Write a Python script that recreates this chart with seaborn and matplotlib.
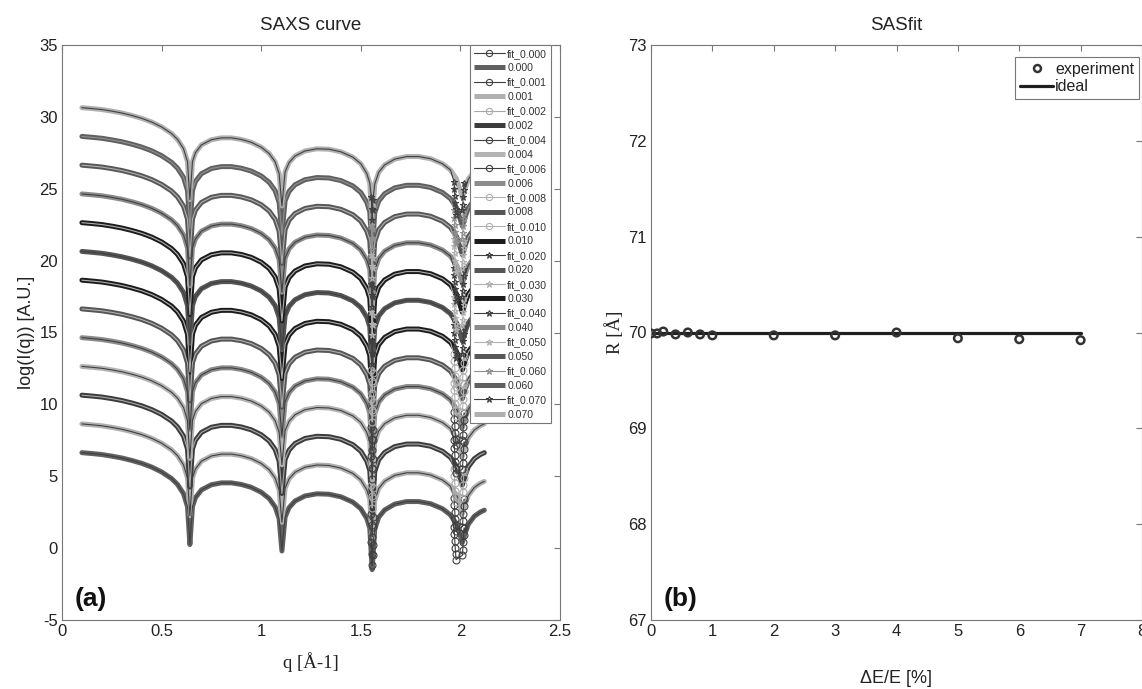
import numpy as np
import matplotlib
matplotlib.use('Agg')
import matplotlib.pyplot as plt
from matplotlib.lines import Line2D
from matplotlib.ticker import FormatStrFormatter
import seaborn as sns

sns.set_theme(style='white')
plt.rcParams['font.family'] = ['Liberation Sans', 'DejaVu Sans']
plt.rcParams['axes.unicode_minus'] = False

# ---- panel (a): SAXS curves, stacked with a vertical offset ----
LABELS = ['0.000', '0.001', '0.002', '0.004', '0.006', '0.008', '0.010',
          '0.020', '0.030', '0.040', '0.050', '0.060', '0.070']
OFFSETS = [0, 2, 4, 6, 8, 10, 12, 14, 16, 18, 20, 22, 24]

# bottom curve (0.000)
Q = [0.10, 0.15, 0.20, 0.25, 0.30, 0.35, 0.40, 0.45, 0.50, 0.55, 0.58, 0.61,
     0.63, 0.642, 0.655, 0.67, 0.70, 0.75, 0.80, 0.85, 0.90, 0.95, 1.00, 1.04,
     1.07, 1.09, 1.104, 1.12, 1.14, 1.17, 1.22, 1.28, 1.34, 1.40, 1.46, 1.50,
     1.53, 1.545, 1.557, 1.57, 1.59, 1.62, 1.67, 1.73, 1.79, 1.85, 1.91, 1.95,
     1.98, 1.995, 2.01, 2.025, 2.04, 2.07, 2.10, 2.12]
LOGI = [6.64, 6.58, 6.51, 6.40, 6.27, 6.10, 5.90, 5.64, 5.30, 4.84, 4.43, 3.79,
        2.88, 0.25, 2.89, 3.51, 4.05, 4.41, 4.54, 4.54, 4.43, 4.23, 3.89, 3.45,
        2.87, 2.05, -0.20, 2.17, 2.82, 3.28, 3.63, 3.78, 3.75, 3.57, 3.20, 2.74,
        2.06, 1.40, -1.50, 1.33, 2.15, 2.66, 3.06, 3.24, 3.24, 3.09, 2.74, 2.31,
        1.69, 1.06, 0.40, 1.10, 1.67, 2.22, 2.51, 2.64]
# deeper points of the fitted curves around the last two minima
DIP_Q = [1.553, 1.555, 1.557, 1.559, 1.561,
         1.968, 1.970, 1.972, 1.974, 1.976, 1.978,
         2.010, 2.012, 2.014, 2.016, 2.018]
DIP_LOGI = [0.40, -0.40, -1.20, -0.50, 0.20,
            1.50, 1.00, 0.50, 0.00, -0.40, -0.80,
            -0.50, -0.10, 0.40, 0.90, 1.40]

DATA_COLORS = ['#606060', '#b0b0b0', '#3c3c3c', '#b4b4b4', '#8c8c8c', '#555555',
               '#1c1c1c', '#555555', '#1c1c1c', '#8c8c8c', '#585858', '#606060',
               '#b0b0b0']
FIT_COLORS = ['#404040', '#404040', '#a8a8a8', '#404040', '#404040', '#b0b0b0',
              '#b0b0b0', '#404040', '#b0b0b0', '#404040', '#b0b0b0', '#909090',
              '#404040']
FIT_MARKERS = ['o', 'o', 'o', 'o', 'o', 'o', 'o', '*', '*', '*', '*', '*', '*']

# ---- panel (b): fitted radius vs energy resolution ----
DE = [0, 0.1, 0.2, 0.4, 0.6, 0.8, 1, 2, 3, 4, 5, 6, 7]
R_EXP = [69.99, 69.99, 70.01, 69.98, 70.00, 69.98, 69.97, 69.97, 69.97, 70.00,
         69.94, 69.93, 69.92]
IDEAL_X = [0, 7]
IDEAL_R = [70, 70]

GRAY = '#777777'
TXT = '#222222'


def style_axes(ax):
    for s in ax.spines.values():
        s.set_color(GRAY)
        s.set_linewidth(0.8)
    ax.tick_params(direction='in', top=True, right=True, length=4, width=0.8,
                   color=GRAY, labelcolor=TXT, labelsize=12, pad=3)


W, H = 1142, 689
fig = plt.figure(figsize=(W / 100, H / 100), dpi=100)
ax1 = fig.add_axes([62 / W, 69 / H, 498 / W, 575 / H])
ax2 = fig.add_axes([651 / W, 69 / H, 491 / W, 575 / H])

q = np.array(Q)
y = np.array(LOGI)
keep = ~(((q > 1.550) & (q < 1.565)) | ((q > 1.965) & (q < 2.02)))
fq = np.concatenate([q[keep], DIP_Q])
fy = np.concatenate([y[keep], DIP_LOGI])
order = np.argsort(fq)
fq, fy = fq[order], fy[order]
dq, dy = np.array(DIP_Q), np.array(DIP_LOGI)

handles, labels = [], []
for k, lab in enumerate(LABELS):
    off = OFFSETS[k]
    sns.lineplot(x=q, y=y + off, sort=False, estimator=None, ax=ax1,
                 color=DATA_COLORS[k], lw=3.6, zorder=2, legend=False)
    sns.lineplot(x=fq, y=fy + off, sort=False, estimator=None, ax=ax1,
                 color=FIT_COLORS[k], lw=0.8, zorder=3, legend=False)
    ax1.plot(dq, dy + off, ls='none', marker=FIT_MARKERS[k], mfc='none',
             mec=FIT_COLORS[k], ms=5, mew=0.8, zorder=3)
    handles.append(Line2D([], [], color=FIT_COLORS[k], lw=0.8,
                          marker=FIT_MARKERS[k], mfc='none', ms=4.5, mew=0.8))
    labels.append('fit_' + lab)
    handles.append(Line2D([], [], color=DATA_COLORS[k], lw=3.6,
                          solid_capstyle='butt'))
    labels.append(lab)

ax1.set_xlim(0, 2.5)
ax1.set_ylim(-5, 35)
ax1.set_xticks([0, 0.5, 1, 1.5, 2, 2.5])
ax1.set_yticks(range(-5, 36, 5))
ax1.xaxis.set_major_formatter(FormatStrFormatter('%g'))
style_axes(ax1)
ax1.set_title('SAXS curve', fontsize=13.5, color=TXT, pad=11)
ax1.set_xlabel('q [Å-1]', family='Liberation Serif', fontsize=13.5,
               color=TXT, labelpad=9)
ax1.set_ylabel('log(I(q)) [A.U.]', fontsize=13, color=TXT, labelpad=3)
ax1.text(0.025, 0.025, '(a)', transform=ax1.transAxes, fontsize=19,
         fontweight='bold', color='#111111')
leg = ax1.legend(handles, labels, loc='upper right',
                 bbox_to_anchor=(1 - 9 / 498, 1.0), borderaxespad=0,
                 fontsize=7.6, labelspacing=0.42, handlelength=3.0,
                 handletextpad=0.2, borderpad=0.35, fancybox=False,
                 framealpha=1, edgecolor=GRAY, labelcolor='#333333')
leg.get_frame().set_linewidth(0.8)

sns.lineplot(x=IDEAL_X, y=IDEAL_R, ax=ax2, color='#1f1f1f', lw=2.3,
             zorder=2, legend=False)
sns.scatterplot(x=DE, y=R_EXP, ax=ax2, marker='o', s=30, facecolor='none',
                edgecolor='#333333', linewidth=1.8, zorder=3, legend=False)
ax2.set_xlim(0, 8)
ax2.set_ylim(67, 73)
ax2.set_xticks(range(0, 9))
ax2.set_yticks(range(67, 74))
style_axes(ax2)
ax2.set_title('SASfit', fontsize=13.5, color=TXT, pad=11)
ax2.set_xlabel('ΔE/E [%]', fontsize=13, color=TXT, labelpad=22)
ax2.set_ylabel('R [Å]', family='Liberation Serif', fontsize=13.5,
               color=TXT, labelpad=3)
ax2.text(0.025, 0.025, '(b)', transform=ax2.transAxes, fontsize=19,
         fontweight='bold', color='#111111')
h2 = [Line2D([], [], ls='none', marker='o', mfc='none', mec='#333333',
             ms=5, mew=1.8),
      Line2D([], [], color='#1f1f1f', lw=2.3)]
leg2 = ax2.legend(h2, ['experiment', 'ideal'], loc='upper left',
                  bbox_to_anchor=(364 / 491, 1 - 12 / 575), borderaxespad=0,
                  fontsize=11.5, handlelength=2.1, handletextpad=0.1,
                  labelspacing=0.15, borderpad=0.3, fancybox=False,
                  framealpha=1, edgecolor=GRAY, labelcolor=TXT)
leg2.get_frame().set_linewidth(0.8)

fig.savefig('out.png', dpi=100)
